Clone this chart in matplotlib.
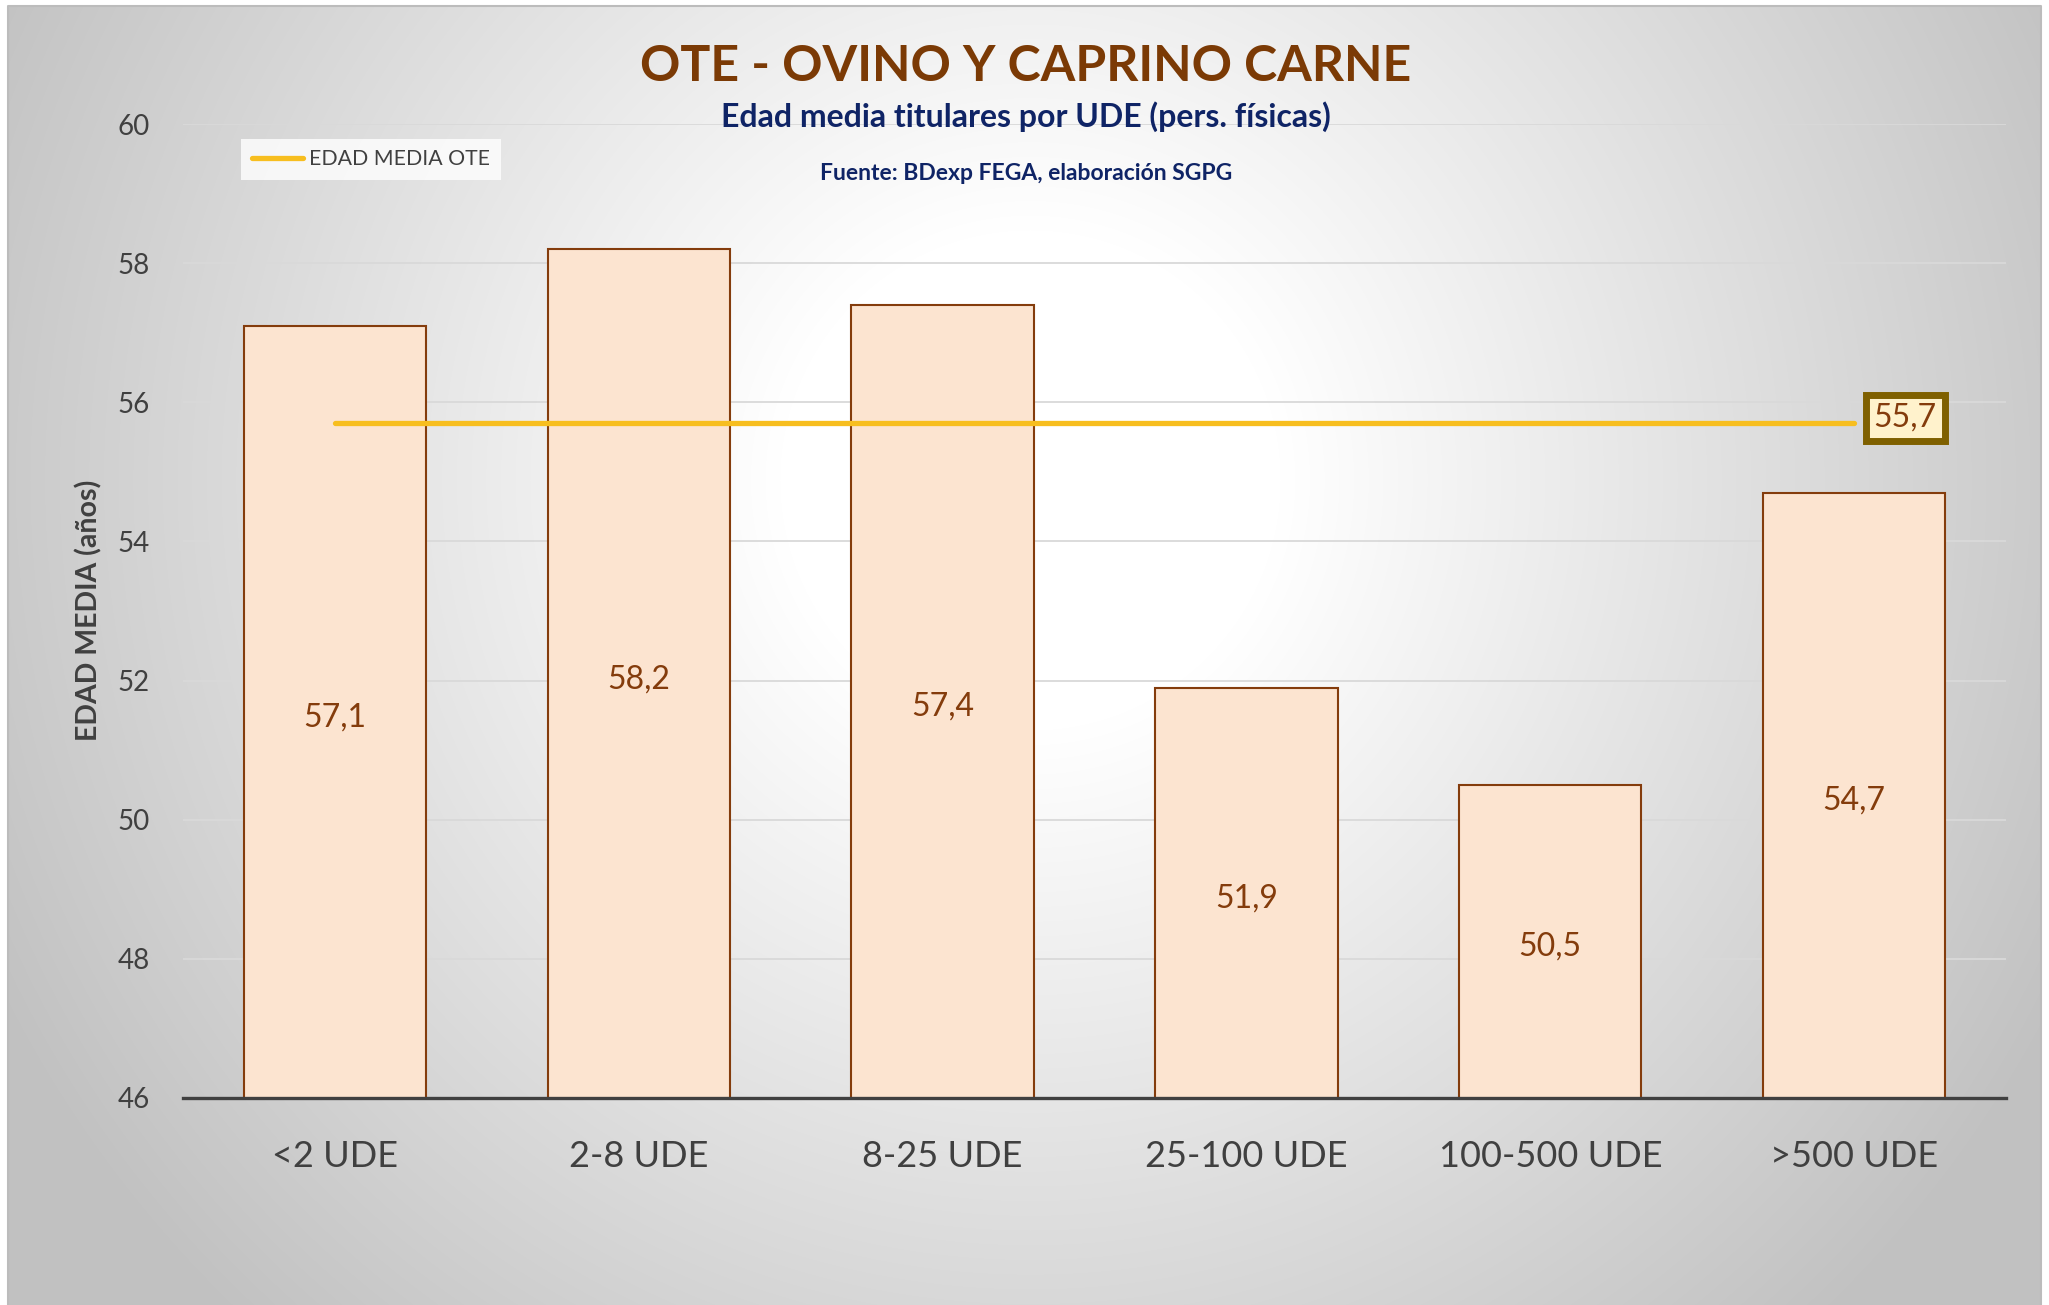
import numpy as np
import matplotlib
matplotlib.use("Agg")
import matplotlib.pyplot as plt
from matplotlib.lines import Line2D

plt.rcParams['font.family'] = ['Lato', 'DejaVu Sans']

# datos
categorias = ['<2 UDE', '2-8 UDE', '8-25 UDE', '25-100 UDE', '100-500 UDE', '>500 UDE']
edad_media = [57.1, 58.2, 57.4, 51.9, 50.5, 54.7]
media_ote = 55.7
y_min, y_max = 46, 60

titulo = 'OTE - OVINO Y CAPRINO CARNE'
subtitulo = 'Edad media titulares por UDE (pers. físicas)'
fuente = 'Fuente: BDexp FEGA, elaboración SGPG'

marron = '#843C0C'
gris_txt = '#404040'
amarillo = '#F7BE1F'

W, H = 2049, 1305
fig = plt.figure(figsize=(W / 100, H / 100), dpi=100)

# fondo con degradado radial (blanco en el centro, gris en los bordes)
yy, xx = np.mgrid[0:H, 0:W]
r = np.hypot(xx - 1030, yy - 480)
v = 1 - 0.24 * np.clip((r - 250) / 900.0, 0, 1)
inside = (xx >= 8) & (xx <= 2041) & (yy >= 6)
v = np.where(inside, v, 1.0)
img = np.dstack([v, v, v])
bg = fig.add_axes([0, 0, 1, 1])
bg.imshow(img, aspect='auto', extent=(0, W, H, 0), interpolation='bilinear')
bg.set_xlim(0, W)
bg.set_ylim(H, 0)
bg.axis('off')
bg.add_line(Line2D([8, 8, 2041, 2041], [H, 6, 6, H], color='#bcbcbc', lw=1.5))

ax = fig.add_axes([183 / W, 1 - 1098 / H, 1823 / W, 974 / H])
ax.patch.set_alpha(0)

x = np.arange(len(categorias))
ax.bar(x, edad_media, width=0.6, color='#FCE4D0', edgecolor=marron, linewidth=1.5, zorder=2)
for xi, val in zip(x, edad_media):
    ax.annotate(f"{val:.1f}".replace('.', ','), xy=(xi, (y_min + val) / 2), xytext=(0, -4),
                textcoords='offset points', ha='center', va='center',
                fontsize=23, color=marron, zorder=4)

ax.plot([x[0], x[-1]], [media_ote, media_ote], color=amarillo, lw=3.8,
        solid_capstyle='round', zorder=3, label='EDAD MEDIA OTE')
ax.annotate(f"{media_ote:.1f}".replace('.', ','), xy=(x[-1], media_ote), xytext=(14, 4),
            textcoords='offset points', ha='left', va='center', fontsize=23, color=marron,
            bbox=dict(boxstyle='square,pad=0.25', fc='#FFF2CC', ec='#7F6000', lw=5), zorder=5)

ax.set_xlim(-0.5, len(categorias) - 0.5)
ax.set_ylim(y_min, y_max)
ax.set_yticks(np.arange(y_min, y_max + 1, 2))
ax.set_xticks(x, categorias)
ax.grid(axis='y', color='#d9d9d9', lw=1.3, zorder=0)
ax.set_axisbelow(True)
for s in ['top', 'right', 'left']:
    ax.spines[s].set_visible(False)
ax.spines['bottom'].set_color(gris_txt)
ax.spines['bottom'].set_linewidth(2.4)
ax.spines['bottom'].set_zorder(6)
ax.tick_params(axis='x', length=0, pad=30, labelsize=26, labelcolor=gris_txt)
ax.tick_params(axis='y', length=0, pad=24, labelsize=20, labelcolor=gris_txt)

leg = ax.legend(loc='upper left', bbox_to_anchor=(0.0318, 0.985), borderaxespad=0,
                fontsize=15.3, frameon=True, fancybox=False, handlelength=2.4,
                handletextpad=0.3, borderpad=0.5)
leg.get_frame().set_facecolor((1, 1, 1, 0.25))
leg.get_frame().set_edgecolor('none')
for t in leg.get_texts():
    t.set_color(gris_txt)

fig.text(0.5007, 0.949, titulo, ha='center', va='center', fontsize=36, weight='bold', color='#7B3A05')
fig.text(0.5007, 0.911, subtitulo, ha='center', va='center', fontsize=23, weight='bold', color='#0F2466')
fig.text(0.5007, 0.867, fuente, ha='center', va='center', fontsize=16.5, weight='bold', color='#0F2466')
fig.text(0.0434, 0.5325, 'EDAD MEDIA (años)', rotation=90, ha='center', va='center',
         fontsize=20.5, weight='bold', color=gris_txt)

fig.savefig('out.png', dpi=100)
